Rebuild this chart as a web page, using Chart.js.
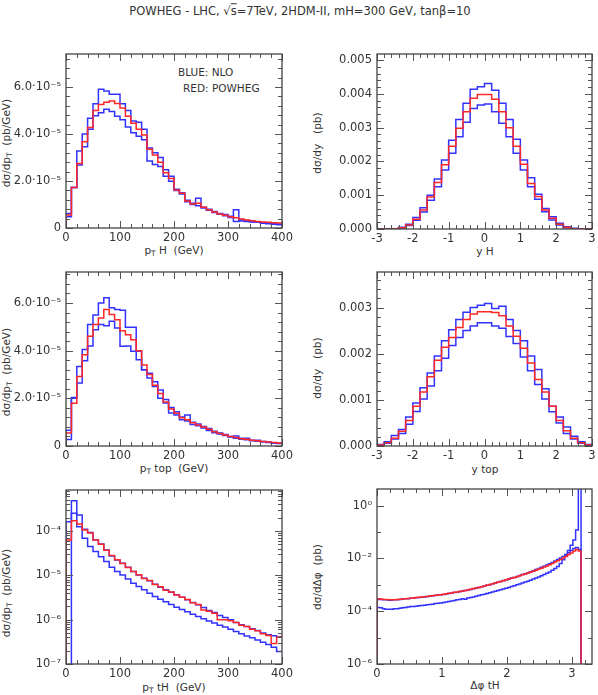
<!DOCTYPE html>
<html lang="en">
<head>
<meta charset="UTF-8">
<title>POWHEG tH distributions</title>
<script src="https://cdn.jsdelivr.net/npm/chart.js"></script>
<style>
  body { margin: 0; width: 598px; height: 695px; position: relative; overflow: hidden; background: #fff;
         font-family: "DejaVu Sans", sans-serif; color: #333; }
  canvas { position: absolute; }
  .lbl { position: absolute; font-size: 10.5px; white-space: pre; line-height: 1; }
  .ctr { transform: translate(-50%, -50%); }
  .rot { transform: translate(-50%, -50%) rotate(-90deg); }
  sub { font-size: 7.5px; vertical-align: -2px; }
  .ov { text-decoration: overline; }
</style>
</head>
<body>
<div class="lbl ctr" style="left:300px;top:12px;font-size:11.5px">POWHEG - LHC, √<span class="ov">s</span>=7TeV, 2HDM-II, mH=300 GeV, tanβ=10</div>

<div class="lbl" style="left:178px;top:67px">BLUE: NLO</div>
<div class="lbl" style="left:183px;top:83px">RED: POWHEG</div>

<div class="lbl rot" style="left:7px;top:143px">dσ/dp<sub>T</sub>  (pb/GeV)</div>
<div class="lbl ctr" style="left:174px;top:251px">p<sub>T</sub> H  (GeV)</div>
<div class="lbl rot" style="left:317px;top:143px">dσ/dy   (pb)</div>
<div class="lbl ctr" style="left:485px;top:251px">y H</div>

<div class="lbl rot" style="left:7px;top:372px">dσ/dp<sub>T</sub>  (pb/GeV)</div>
<div class="lbl ctr" style="left:174px;top:469px">p<sub>T</sub> top  (GeV)</div>
<div class="lbl rot" style="left:317px;top:368px">dσ/dy   (pb)</div>
<div class="lbl ctr" style="left:485px;top:469px">y top</div>

<div class="lbl rot" style="left:7px;top:593px">dσ/dp<sub>T</sub>  (pb/GeV)</div>
<div class="lbl ctr" style="left:174px;top:688px">p<sub>T</sub> tH  (GeV)</div>
<div class="lbl rot" style="left:317px;top:577px">dσ/dΔφ  (pb)</div>
<div class="lbl ctr" style="left:485px;top:685px">Δφ tH</div>

<script>
// ---- binning (lower edge, width, count)
const ptBins = { lo: 0, width: 10, n: 40 };          // GeV
const rapBins = { lo: -3, width: 0.2, n: 30 };
const dphiBins = { lo: 0, width: Math.PI / 75, n: 75 };

// ---- pT H, units of 1e-5 pb/GeV
const ptH_nloA = [0.62, 1.72, 3.28, 4.00, 4.67, 5.28, 5.90, 5.83, 5.69, 5.69, 5.28, 5.00, 4.55, 4.50, 4.20, 3.40, 3.20, 3.00, 2.48, 2.20,
                  1.60, 1.50, 1.18, 1.05, 0.95, 0.88, 0.80, 0.70, 0.62, 0.57, 0.50, 0.28, 0.35, 0.32, 0.28, 0.26, 0.23, 0.21, 0.19, 0.17];
const ptH_nloB = [0.48, 1.72, 2.68, 3.46, 4.20, 4.77, 4.90, 5.05, 4.95, 4.75, 4.60, 4.30, 4.05, 3.90, 3.75, 2.85, 2.70, 2.62, 2.20, 1.99,
                  1.65, 1.45, 1.12, 1.00, 1.27, 0.85, 0.75, 0.66, 0.58, 0.52, 0.45, 0.78, 0.30, 0.28, 0.26, 0.24, 0.20, 0.18, 0.16, 0.14];
const ptH_pwg  = [0.55, 1.72, 2.74, 3.67, 4.27, 5.00, 5.25, 5.35, 5.40, 5.30, 5.10, 4.75, 4.45, 4.20, 3.95, 3.35, 3.10, 2.80, 2.35, 2.10,
                  1.62, 1.48, 1.15, 1.02, 1.05, 0.88, 0.78, 0.68, 0.60, 0.54, 0.48, 0.44, 0.38, 0.34, 0.31, 0.28, 0.26, 0.24, 0.22, 0.21];

// ---- y H, units of 1e-3 pb
const yH_nloA = [0, 0, 0.01, 0.05, 0.14, 0.34, 0.63, 1.00, 1.48, 2.04, 2.63, 3.24, 3.72, 4.14, 4.21,
                 4.31, 4.11, 3.72, 3.24, 2.66, 2.04, 1.52, 1.03, 0.61, 0.36, 0.17, 0.07, 0.02, 0, 0];
const yH_nloB = [0, 0, 0, 0.03, 0.10, 0.26, 0.50, 0.85, 1.25, 1.75, 2.24, 2.73, 3.16, 3.57, 3.67,
                 3.70, 3.47, 3.13, 2.73, 2.24, 1.75, 1.25, 0.88, 0.51, 0.27, 0.12, 0.04, 0.01, 0, 0];
const yH_pwg  = [0, 0, 0.01, 0.04, 0.12, 0.29, 0.56, 0.95, 1.38, 1.90, 2.45, 2.98, 3.47, 3.87, 3.98,
                 3.98, 3.84, 3.47, 3.00, 2.45, 1.92, 1.35, 0.96, 0.56, 0.32, 0.14, 0.05, 0.01, 0, 0];

// ---- pT top, units of 1e-5 pb/GeV
const ptTop_nloA = [0.66, 2.04, 3.34, 4.05, 5.10, 5.50, 6.00, 6.22, 5.80, 5.73, 5.70, 4.98, 4.98, 3.97, 3.20, 3.05, 2.70, 2.35, 1.95, 1.62,
                    1.44, 1.22, 1.30, 1.00, 0.92, 0.82, 0.73, 0.62, 0.55, 0.48, 0.40, 0.42, 0.32, 0.33, 0.24, 0.24, 0.19, 0.17, 0.14, 0.12];
const ptTop_nloB = [0.27, 2.00, 2.64, 3.58, 4.20, 4.88, 5.10, 5.05, 5.23, 4.95, 4.18, 4.20, 3.97, 3.62, 3.20, 2.85, 2.50, 2.00, 1.80, 1.38,
                    1.30, 1.10, 1.05, 0.90, 0.85, 0.75, 0.65, 0.56, 0.50, 0.44, 0.38, 0.33, 0.28, 0.26, 0.22, 0.20, 0.18, 0.15, 0.13, 0.11];
const ptTop_pwg  = [0.55, 1.79, 2.92, 3.83, 4.60, 5.10, 5.37, 5.73, 5.52, 5.30, 4.84, 4.67, 4.46, 4.00, 3.40, 3.00, 2.55, 2.20, 1.85, 1.55,
                    1.37, 1.18, 1.10, 0.98, 0.88, 0.80, 0.70, 0.60, 0.52, 0.46, 0.40, 0.36, 0.30, 0.28, 0.24, 0.22, 0.19, 0.17, 0.15, 0.13];

// ---- y top, units of 1e-3 pb
const yTop_nloA = [0.03, 0.09, 0.23, 0.36, 0.63, 0.93, 1.26, 1.58, 1.95, 2.28, 2.52, 2.74, 2.90, 3.00, 3.05,
                   3.09, 2.98, 3.03, 2.74, 2.50, 2.28, 1.95, 1.66, 1.24, 0.86, 0.63, 0.41, 0.21, 0.09, 0.03];
const yTop_nloB = [0.02, 0.06, 0.15, 0.27, 0.47, 0.75, 1.02, 1.30, 1.63, 1.90, 2.18, 2.35, 2.50, 2.60, 2.67,
                   2.67, 2.60, 2.55, 2.37, 2.22, 1.93, 1.63, 1.33, 1.02, 0.74, 0.50, 0.27, 0.15, 0.06, 0.02];
const yTop_pwg  = [0.02, 0.07, 0.17, 0.32, 0.55, 0.86, 1.17, 1.50, 1.86, 2.14, 2.35, 2.57, 2.74, 2.86, 2.91,
                   2.91, 2.89, 2.82, 2.60, 2.38, 2.12, 1.80, 1.44, 1.17, 0.86, 0.55, 0.33, 0.17, 0.07, 0.02];

// ---- pT tH, pb/GeV (first bin of nloB is empty, below the axis)
const ptTH_nloA = [1.62e-4, 2.5e-4, 2.29e-4, 1.1e-4, 9.2e-5, 6.3e-5, 5.1e-5, 3.73e-5, 2.74e-5, 2.22e-5,
                   1.87e-5, 1.52e-5, 1.22e-5, 1.02e-5, 8.6e-6, 7.5e-6, 6.3e-6, 5.4e-6, 4.7e-6, 4.17e-6,
                   3.63e-6, 3.21e-6, 2.8e-6, 2.44e-6, 2.16e-6, 1.88e-6, 1.61e-6, 1.45e-6, 1.24e-6, 1.12e-6,
                   9.9e-7, 8.65e-7, 7.66e-7, 7.03e-7, 6.22e-7, 5.71e-7, 4.97e-7, 4.57e-7, 4.33e-7, 4.05e-7];
const ptTH_nloB = [1e-12, 4.82e-4, 1.25e-4, 6.84e-5, 4.44e-5, 3.43e-5, 2.64e-5, 2.04e-5, 1.52e-5, 1.22e-5,
                   1.02e-5, 8.3e-6, 6.64e-6, 5.58e-6, 4.7e-6, 3.95e-6, 3.33e-6, 2.9e-6, 2.52e-6, 2.2e-6,
                   1.91e-6, 1.7e-6, 1.5e-6, 1.33e-6, 1.18e-6, 1.05e-6, 9.3e-7, 8.4e-7, 7.5e-7, 6.8e-7,
                   6.1e-7, 5.4e-7, 4.8e-7, 4.3e-7, 3.9e-7, 3.5e-7, 3.1e-7, 2.77e-7, 2.4e-7, 1.92e-7];
const ptTH_pwg  = [6.3e-5, 1.71e-4, 1.44e-4, 1.05e-4, 9.0e-5, 6.3e-5, 5.0e-5, 3.7e-5, 2.8e-5, 2.25e-5,
                   1.85e-5, 1.5e-5, 1.22e-5, 1.03e-5, 8.5e-6, 7.6e-6, 6.2e-6, 5.5e-6, 4.6e-6, 4.2e-6,
                   3.6e-6, 3.2e-6, 2.85e-6, 2.4e-6, 2.2e-6, 1.65e-6, 1.55e-6, 1.4e-6, 1.0e-6, 1.0e-6,
                   9.5e-7, 8.6e-7, 7.5e-7, 7.0e-7, 6.1e-7, 5.6e-7, 4.8e-7, 4.4e-7, 2.9e-7, 4.0e-7];

// ---- delta phi tH, pb (last nloB bin runs off the top)
const dphi_nloA = [2.8e-4, 2.8e-4, 2.7e-4, 2.7e-4, 2.6e-4, 2.65e-4, 2.7e-4, 2.75e-4, 2.8e-4, 2.9e-4,
                   2.95e-4, 3.0e-4, 3.1e-4, 3.15e-4, 3.25e-4, 3.35e-4, 3.4e-4, 3.5e-4, 3.6e-4, 3.7e-4,
                   3.85e-4, 3.95e-4, 4.1e-4, 4.2e-4, 4.35e-4, 4.55e-4, 4.7e-4, 4.9e-4, 5.15e-4, 5.3e-4,
                   5.55e-4, 5.8e-4, 6.05e-4, 6.4e-4, 6.7e-4, 7.1e-4, 7.5e-4, 8.0e-4, 8.4e-4, 9.0e-4,
                   9.6e-4, 1.02e-3, 1.1e-3, 1.17e-3, 1.25e-3, 1.35e-3, 1.45e-3, 1.55e-3, 1.67e-3, 1.8e-3,
                   1.92e-3, 2.08e-3, 2.25e-3, 2.45e-3, 2.65e-3, 2.9e-3, 3.15e-3, 3.45e-3, 3.8e-3, 4.15e-3,
                   4.6e-3, 5.05e-3, 5.6e-3, 6.3e-3, 7.1e-3, 8.0e-3, 9.1e-3, 1.05e-2, 1.2e-2, 1.4e-2,
                   1.65e-2, 2.0e-2, 2.4e-2, 2.6e-2, 2.2e-2];
const dphi_nloB = [1.4e-4, 1.35e-4, 1.25e-4, 1.2e-4, 1.2e-4, 1.2e-4, 1.25e-4, 1.25e-4, 1.3e-4, 1.35e-4,
                   1.4e-4, 1.45e-4, 1.5e-4, 1.5e-4, 1.55e-4, 1.6e-4, 1.65e-4, 1.7e-4, 1.75e-4, 1.8e-4,
                   1.85e-4, 1.95e-4, 2.0e-4, 2.05e-4, 2.15e-4, 2.25e-4, 2.35e-4, 2.45e-4, 2.55e-4, 2.7e-4,
                   2.8e-4, 2.95e-4, 2.85e-4, 3.2e-4, 3.35e-4, 3.5e-4, 3.7e-4, 3.95e-4, 4.2e-4, 4.45e-4,
                   4.7e-4, 5.0e-4, 5.35e-4, 5.7e-4, 6.1e-4, 6.5e-4, 7.0e-4, 7.5e-4, 8.0e-4, 8.6e-4,
                   9.2e-4, 1.0e-3, 1.08e-3, 1.17e-3, 1.27e-3, 1.38e-3, 1.5e-3, 1.65e-3, 1.82e-3, 2.0e-3,
                   2.2e-3, 2.45e-3, 2.75e-3, 3.1e-3, 3.6e-3, 4.2e-3, 5.0e-3, 6.5e-3, 9.0e-3, 1.3e-2,
                   2.0e-2, 3.2e-2, 5.0e-2, 0.12, 10];
const dphi_pwg  = [3.0e-4, 2.9e-4, 2.8e-4, 2.8e-4, 2.75e-4, 2.7e-4, 2.75e-4, 2.8e-4, 2.85e-4, 2.9e-4,
                   3.0e-4, 3.05e-4, 3.1e-4, 3.2e-4, 3.3e-4, 3.4e-4, 3.45e-4, 3.55e-4, 3.6e-4, 3.75e-4,
                   3.9e-4, 4.0e-4, 4.1e-4, 4.25e-4, 4.4e-4, 4.6e-4, 4.8e-4, 4.95e-4, 5.2e-4, 5.4e-4,
                   5.6e-4, 5.85e-4, 6.1e-4, 6.4e-4, 6.8e-4, 7.2e-4, 7.6e-4, 8.0e-4, 8.5e-4, 9.0e-4,
                   9.7e-4, 1.03e-3, 1.1e-3, 1.18e-3, 1.26e-3, 1.34e-3, 1.44e-3, 1.55e-3, 1.66e-3, 1.78e-3,
                   1.9e-3, 2.05e-3, 2.2e-3, 2.4e-3, 2.6e-3, 2.8e-3, 3.05e-3, 3.3e-3, 3.6e-3, 3.95e-3,
                   4.3e-3, 4.75e-3, 5.2e-3, 5.8e-3, 6.5e-3, 7.3e-3, 8.2e-3, 9.2e-3, 1.05e-2, 1.2e-2,
                   1.4e-2, 1.6e-2, 1.9e-2, 2.2e-2, 1.9e-2];

// ---- tick values and labels
const ptTicks = [0, 100, 200, 300, 400];
const ptTickLabels = ['0', '100', '200', '300', '400'];
const rapTicks = [-3, -2, -1, 0, 1, 2, 3];
const rapTickLabels = ['-3', '-2', '-1', '0', '1', '2', '3'];
const dphiTicks = [0, 1, 2, 3];
const dphiTickLabels = ['0', '1', '2', '3'];
const ptYTicks = [0, 2, 4, 6];
const ptYTickLabels = ['0', '2.0·10⁻⁵', '4.0·10⁻⁵', '6.0·10⁻⁵'];
const yHYTicks = [0, 1, 2, 3, 4, 5];
const yHYTickLabels = ['0.000', '0.001', '0.002', '0.003', '0.004', '0.005'];
const yTopYTicks = [0, 1, 2, 3];
const yTopYTickLabels = ['0.000', '0.001', '0.002', '0.003'];
const ptTHYTicks = [1e-7, 1e-6, 1e-5, 1e-4];
const ptTHYTickLabels = ['10⁻⁷', '10⁻⁶', '10⁻⁵', '10⁻⁴'];
const dphiYTicks = [1e-6, 1e-4, 1e-2, 1];
const dphiYTickLabels = ['10⁻⁶', '10⁻⁴', '10⁻²', '10⁰'];

const BLUE = 'rgb(50,50,255)';
const RED = 'rgb(255,40,40)';
const FONT = { family: 'DejaVu Sans', size: 11.5 };

// evenly spaced minor tick values
function every(lo, hi, step) {
  const out = [];
  for (let v = lo; v <= hi + 1e-9; v += step) out.push(+v.toFixed(6));
  return out;
}
function logMinors(decades, upTo) {
  const out = [];
  decades.forEach(d => { for (let m = 2; m <= 9; m++) if (m * d <= upTo) out.push(m * d); });
  return out;
}

// histogram outline as corner points
function stepPoints(bins, vals, floor, closeRight) {
  const edge = i => bins.lo + i * bins.width;
  const pts = [{ x: edge(0), y: floor }];
  vals.forEach((v, i) => { pts.push({ x: edge(i), y: v }, { x: edge(i + 1), y: v }); });
  if (closeRight) pts.push({ x: edge(vals.length), y: floor });
  return pts;
}

// frame round the plot with inward ticks on all four sides
const frameTicks = {
  id: 'frameTicks',
  afterDraw(chart, args, o) {
    const { ctx, chartArea: a } = chart;
    const xs = chart.scales.x, ys = chart.scales.y;
    ctx.save();
    ctx.strokeStyle = '#555';
    ctx.lineWidth = 1;
    ctx.beginPath();
    const xt = (v, len) => {
      if (v < xs.min || v > xs.max) return;
      const p = Math.round(xs.getPixelForValue(v)) + 0.5;
      ctx.moveTo(p, a.bottom); ctx.lineTo(p, a.bottom - len);
      ctx.moveTo(p, a.top); ctx.lineTo(p, a.top + len);
    };
    const yt = (v, len) => {
      if (v < ys.min || v > ys.max) return;
      const p = Math.round(ys.getPixelForValue(v)) + 0.5;
      ctx.moveTo(a.left, p); ctx.lineTo(a.left + len, p);
      ctx.moveTo(a.right, p); ctx.lineTo(a.right - len, p);
    };
    o.xMajor.forEach(v => xt(v, 7));
    o.xMinor.forEach(v => xt(v, 4));
    o.yMajor.forEach(v => yt(v, 7));
    o.yMinor.forEach(v => yt(v, 4));
    ctx.stroke();
    ctx.lineWidth = 1.3;
    ctx.strokeStyle = '#444';
    ctx.strokeRect(a.left, a.top, a.right - a.left, a.bottom - a.top);
    ctx.restore();
  }
};

function panel(p) {
  const L = p.box.left < 300 ? 0 : 300;
  const T = p.box.top - 14;
  const c = document.createElement('canvas');
  c.width = p.box.right + 18 - L;
  c.height = p.box.bottom + 20 - T;
  c.style.left = L + 'px';
  c.style.top = T + 'px';
  document.body.appendChild(c);

  const floor = p.log ? 1e-12 : 0;
  new Chart(c, {
    type: 'line',
    data: {
      datasets: p.series.map(s => ({
        data: stepPoints(p.bins, s.vals, floor, p.closeRight),
        borderColor: s.color,
        borderWidth: 1.5,
        pointRadius: 0,
        fill: false
      }))
    },
    options: {
      responsive: false,
      animation: false,
      events: [],
      layout: { padding: { top: 14, right: 18, left: 0, bottom: 0 } },
      plugins: {
        legend: { display: false },
        tooltip: { enabled: false },
        frameTicks: p.ticks
      },
      scales: {
        x: {
          type: 'linear', min: p.x.min, max: p.x.max,
          grid: { display: false, drawTicks: false }, border: { display: false },
          afterBuildTicks: s => { s.ticks = p.x.ticks.map(v => ({ value: v })); },
          afterFit: s => { s.height = 20; },
          ticks: { autoSkip: false, maxRotation: 0, padding: 3, font: FONT, color: '#333',
                   callback: (v, i) => p.x.labels[i] }
        },
        y: {
          type: p.log ? 'logarithmic' : 'linear', min: p.y.min, max: p.y.max,
          grid: { display: false, drawTicks: false }, border: { display: false },
          afterBuildTicks: s => { s.ticks = p.y.ticks.map(v => ({ value: v })); },
          afterFit: s => { s.width = p.box.left - L; },
          ticks: { autoSkip: false, padding: 5, font: FONT, color: '#333',
                   callback: (v, i) => p.y.labels[i] }
        }
      }
    },
    plugins: [frameTicks]
  });
}

const leftCol = { left: 66, right: 282 };
const rightCol = { left: 377, right: 592 };

panel({
  box: { ...leftCol, top: 54, bottom: 228 }, bins: ptBins,
  x: { min: 0, max: 400, ticks: ptTicks, labels: ptTickLabels },
  y: { min: 0, max: 7.4, ticks: ptYTicks, labels: ptYTickLabels },
  ticks: { xMajor: ptTicks, xMinor: every(0, 400, 20), yMajor: ptYTicks, yMinor: every(0, 7.2, 0.4) },
  series: [{ vals: ptH_pwg, color: RED }, { vals: ptH_nloA, color: BLUE }, { vals: ptH_nloB, color: BLUE }]
});
panel({
  box: { ...rightCol, top: 54, bottom: 229 }, bins: rapBins,
  x: { min: -3, max: 3, ticks: rapTicks, labels: rapTickLabels },
  y: { min: 0, max: 5.18, ticks: yHYTicks, labels: yHYTickLabels },
  ticks: { xMajor: rapTicks, xMinor: every(-3, 3, 0.2), yMajor: yHYTicks, yMinor: every(0, 5.1, 0.2) },
  series: [{ vals: yH_pwg, color: RED }, { vals: yH_nloA, color: BLUE }, { vals: yH_nloB, color: BLUE }]
});
panel({
  box: { ...leftCol, top: 272, bottom: 446 }, bins: ptBins,
  x: { min: 0, max: 400, ticks: ptTicks, labels: ptTickLabels },
  y: { min: 0, max: 7.3, ticks: ptYTicks, labels: ptYTickLabels },
  ticks: { xMajor: ptTicks, xMinor: every(0, 400, 20), yMajor: ptYTicks, yMinor: every(0, 7.2, 0.4) },
  series: [{ vals: ptTop_pwg, color: RED }, { vals: ptTop_nloA, color: BLUE }, { vals: ptTop_nloB, color: BLUE }]
});
panel({
  box: { ...rightCol, top: 272, bottom: 446 }, bins: rapBins,
  x: { min: -3, max: 3, ticks: rapTicks, labels: rapTickLabels },
  y: { min: 0, max: 3.77, ticks: yTopYTicks, labels: yTopYTickLabels },
  ticks: { xMajor: rapTicks, xMinor: every(-3, 3, 0.2), yMajor: yTopYTicks, yMinor: every(0, 3.7, 0.2) },
  series: [{ vals: yTop_pwg, color: RED }, { vals: yTop_nloA, color: BLUE }, { vals: yTop_nloB, color: BLUE }]
});
panel({
  box: { ...leftCol, top: 490, bottom: 664 }, bins: ptBins, log: true,
  x: { min: 0, max: 400, ticks: ptTicks, labels: ptTickLabels },
  y: { min: 1e-7, max: 8.4e-4, ticks: ptTHYTicks, labels: ptTHYTickLabels },
  ticks: { xMajor: ptTicks, xMinor: every(0, 400, 20), yMajor: ptTHYTicks,
           yMinor: logMinors([1e-7, 1e-6, 1e-5, 1e-4], 8.4e-4) },
  series: [{ vals: ptTH_pwg, color: RED }, { vals: ptTH_nloA, color: BLUE }, { vals: ptTH_nloB, color: BLUE }]
});
panel({
  box: { ...rightCol, top: 489, bottom: 664 }, bins: dphiBins, log: true, closeRight: true,
  x: { min: 0, max: 3.31, ticks: dphiTicks, labels: dphiTickLabels },
  y: { min: 1e-6, max: 4.3, ticks: dphiYTicks, labels: dphiYTickLabels },
  ticks: { xMajor: dphiTicks, xMinor: every(0, 3.2, 0.2), yMajor: dphiYTicks, yMinor: [1e-5, 1e-3, 1e-1] },
  series: [{ vals: dphi_pwg, color: RED }, { vals: dphi_nloA, color: BLUE }, { vals: dphi_nloB, color: BLUE }]
});
</script>
</body>
</html>
